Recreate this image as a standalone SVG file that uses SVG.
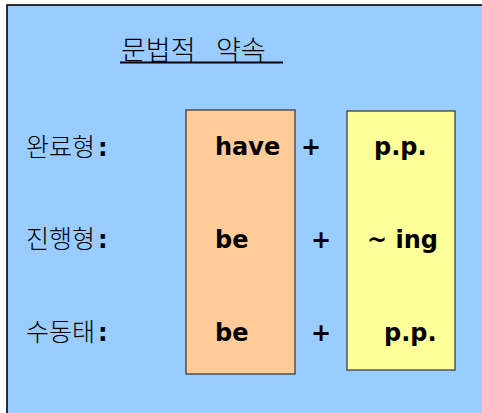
<svg xmlns="http://www.w3.org/2000/svg" width="482" height="413" viewBox="0 0 482 413">
<style>
.kr{font-family:"Noto Sans CJK KR","DejaVu Sans",sans-serif;font-size:25px;font-weight:300;fill:#000}
.b{font-family:"DejaVu Sans","Verdana",sans-serif;font-weight:bold;font-size:24px;fill:#000}
.box{stroke:#333;stroke-width:1.2}
</style>
<rect x="7" y="5" width="490" height="420" fill="#99CCFF" stroke="#000" stroke-width="1.6"/>
<g id="title">
<text class="kr" x="121" y="60" style="font-size:27px">문법적</text>
<text class="kr" x="216" y="60" style="font-size:27px">약속</text>
<line x1="120" y1="62.5" x2="283" y2="62.5" stroke="#000" stroke-width="1.8"/>
</g>
<g id="aux-box"><rect class="box" x="186" y="110" width="109" height="264" fill="#FFCC99"/></g>
<g id="form-box"><rect class="box" x="347" y="111" width="108" height="259" fill="#FFFF99"/></g>
<g id="row-perfect">
<text class="kr" x="26" y="156">완료형</text><text class="b" x="98" y="156">:</text>
<text class="b" x="215" y="155">have</text>
<text class="b" x="301" y="155">+</text>
<text class="b" x="374" y="155">p.p.</text>
</g>
<g id="row-progressive">
<text class="kr" x="26" y="248">진행형</text><text class="b" x="98" y="248">:</text>
<text class="b" x="215" y="248">be</text>
<text class="b" x="311" y="248">+</text>
<text class="b" x="367" y="248">~ ing</text>
</g>
<g id="row-passive">
<text class="kr" x="26" y="341">수동태</text><text class="b" x="98" y="341">:</text>
<text class="b" x="215" y="341">be</text>
<text class="b" x="311" y="341">+</text>
<text class="b" x="384" y="341">p.p.</text>
</g>
</svg>
